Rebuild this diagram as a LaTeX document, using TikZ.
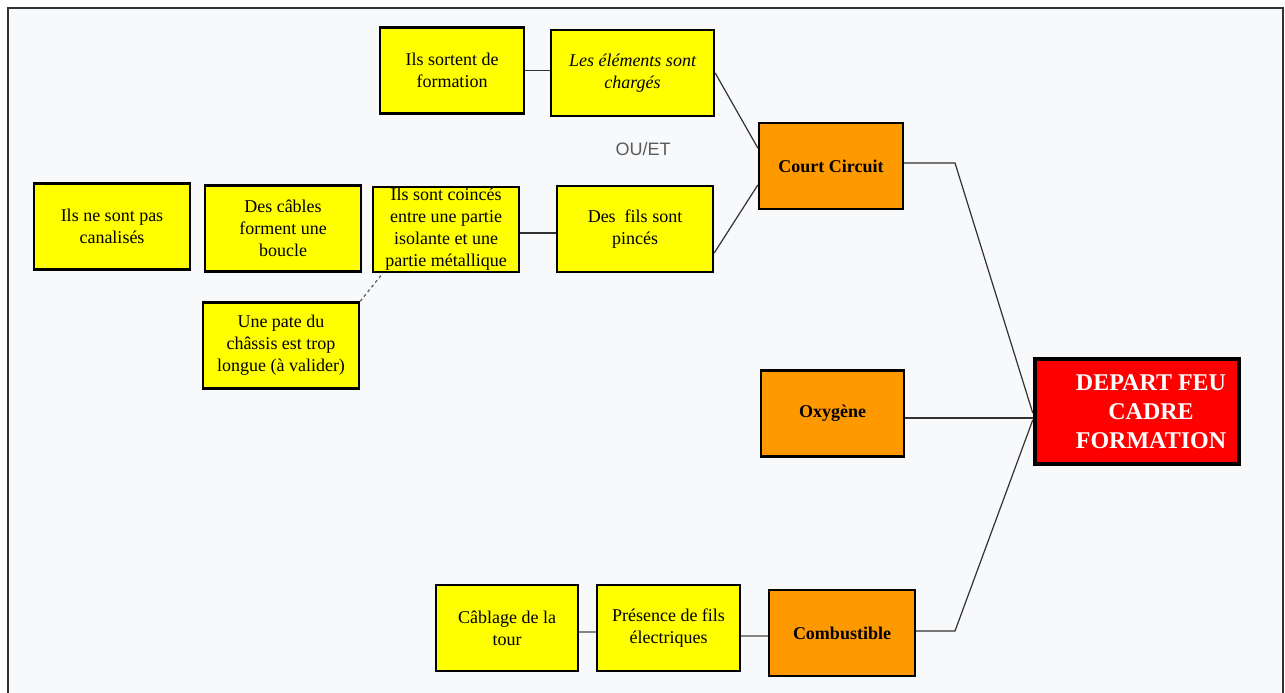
\documentclass[tikz,border=0pt]{standalone}
\usepackage{fontspec}
\setmainfont{Liberation Serif}
\newfontfamily\labelsans{Liberation Sans}
\usetikzlibrary{positioning}
\definecolor{causeyellow}{RGB}{255,255,0}
\definecolor{factororange}{RGB}{255,153,0}
\definecolor{firered}{RGB}{255,0,0}
\definecolor{pagegrey}{RGB}{248,249,251}
\definecolor{wiregrey}{RGB}{50,50,50}
\tikzstyle{box}=[rectangle,draw=black,line width=2.4pt,align=center,inner sep=2pt,font=\fontsize{18}{22}\selectfont]
\tikzstyle{cause box}=[box,fill=causeyellow,minimum height=86pt]
\tikzstyle{factor box}=[box,fill=factororange,minimum width=144pt,minimum height=86pt,font=\fontsize{18}{22}\selectfont\bfseries]
\tikzstyle{event box}=[box,fill=firered,line width=4.5pt,minimum width=204pt,minimum height=105pt]
\tikzstyle{event text}=[text=white,align=center,font=\fontsize{24}{29}\selectfont\bfseries]
\tikzstyle{wire}=[draw=wiregrey,line width=1.2pt]

\begin{document}
\begin{tikzpicture}[x=1pt,y=-1pt]
		\useasboundingbox (0,0) rectangle (1285,693);
		\draw[fill=pagegrey,draw=wiregrey,line width=2pt] (8,8) rectangle (1283,710);

		% Draw the cause boxes
		\foreach \name/\x/\y/\w/\txt in {sortent/452/70.5/144/{Ils sortent de\\formation},
			pinces/635/229/156/{Des~ fils sont\\pincés},
			boucle/283/228.5/156/{Des câbles\\forment une\\boucle},
			canalises/112/226.5/156/{Ils ne sont pas\\canalisés},
			pate/281/345.5/156/{Une pate du\\châssis est trop\\longue (à valider)},
			cablage/507/628/142/{Câblage de la\\tour},
			presence/668.5/628/143/{Présence de fils\\électriques}}
		\node[cause box, minimum width=\w pt] (\name) at (\x, \y) {\txt};

		\node[cause box, minimum width=163pt, font=\fontsize{18}{22}\selectfont\itshape] (charges) at (632.5, 73) {Les éléments sont\\chargés};
		\node[cause box, minimum width=146pt, minimum height=85pt, inner sep=0pt] (coinces) at (446, 229.5) {Ils sont coincés\\entre une partie\\isolante et une\\partie métallique};

		% Draw the factor boxes
		\node[factor box] (court) at (831, 166) {Court Circuit};
		\node[factor box, minimum width=143pt] (oxygene) at (832.5, 413.5) {Oxygène};
		\node[factor box, minimum width=146pt] (combustible) at (842, 633) {Combustible};

		% Draw the event box
		\node[event box] (depart) at (1137, 411.5) {};
		\node[event text] (depart-text) at ([xshift=14pt]depart.center) {DEPART FEU\\CADRE\\FORMATION};

		\node[font=\labelsans\fontsize{18}{22}\selectfont, text=wiregrey!80] (ouet) at (643, 149) {OU/ET};

		% Connect the causes of the short circuit
		\path[wire] (sortent.east) -- (sortent.east -| charges.west);
		\path[wire] (charges.east) -- ([yshift=18pt]court.west);
		\path[wire] ([yshift=-3.5pt]coinces.east) -- ([yshift=-3.5pt]coinces.east -| pinces.west);
		\path[wire] ([yshift=-24pt]pinces.east) -- ([yshift=-19pt]court.west);
		\path[wire, dashed, draw=wiregrey!80] (pate.north east) -- ([xshift=11pt]coinces.south west);

		% Connect the causes of the fuel
		\path[wire, draw=wiregrey!60] ([yshift=-4pt]cablage.east) -- ([yshift=-4pt]cablage.east -| presence.west);
		\path[wire, draw=wiregrey!60] ([yshift=-8pt]presence.east) -- ([yshift=-3pt]combustible.west);

		% Connect the factors with the event
		\coordinate (court-kink) at (955, 163);
		\coordinate (combustible-kink) at (955, 631);
		\path[wire] ([yshift=3pt]court.east) -- (court-kink) -- ([yshift=-1.5pt]depart.west);
		\path[wire] ([yshift=-4.5pt]oxygene.east) -- ([yshift=-4.5pt]oxygene.east -| depart.west);
		\path[wire] ([yshift=2pt]combustible.east) -- (combustible-kink) -- ([yshift=-8.5pt]depart.west);
\end{tikzpicture}
\end{document}
